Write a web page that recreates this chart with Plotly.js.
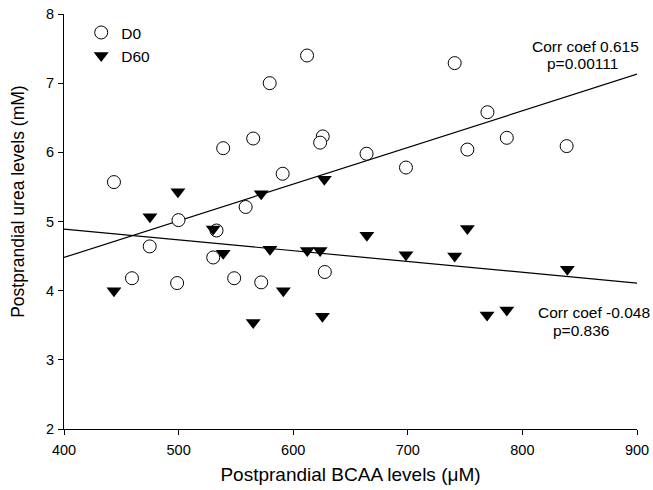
<!DOCTYPE html>
<html>
<head>
<meta charset="utf-8">
<script src="https://cdn.plot.ly/plotly-3.0.1.min.js"></script>
<style>html,body{margin:0;padding:0;background:#fff;}#chart{width:653px;height:490px;}</style>
</head>
<body>
<div id="chart"></div>
<script>
// D0 (open circles)
const d0X = [443.6, 612.1, 579.5, 565.1, 538.9, 625.8, 623.5, 590.8, 558.5, 499.9, 533.1, 474.8, 459.3, 498.7, 530.2, 548.5, 572.1, 627.6, 740.9, 769.5, 664.0, 698.4, 752.0, 786.4, 838.6];
const d0Y = [5.57, 7.40, 7.00, 6.20, 6.06, 6.23, 6.14, 5.69, 5.21, 5.02, 4.87, 4.64, 4.18, 4.11, 4.48, 4.18, 4.12, 4.27, 7.29, 6.58, 5.98, 5.78, 6.04, 6.21, 6.09];
// D60 (filled down-triangles)
const d60X = [499.4, 475.0, 572.1, 627.2, 530.2, 538.9, 579.7, 612.3, 623.5, 443.6, 591.4, 565.1, 625.5, 664.3, 752.0, 698.4, 740.9, 839.2, 769.2, 786.4];
const d60Y = [5.43, 5.07, 5.40, 5.61, 4.89, 4.54, 4.60, 4.58, 4.58, 4.00, 4.00, 3.54, 3.63, 4.80, 4.90, 4.52, 4.50, 4.31, 3.65, 3.72];
// regression lines (endpoints)
const fitX = [400, 900];
const fitD0Y = [4.48, 7.13];
const fitD60Y = [4.89, 4.11];
const xTicks = [400, 500, 600, 700, 800, 900];
const yTicks = [2, 3, 4, 5, 6, 7, 8];

const font = 'Arial, "Liberation Sans", sans-serif';
const traces = [
  {x: fitX, y: fitD0Y, mode: 'lines', line: {color: '#000', width: 1.2}, showlegend: false, hoverinfo: 'skip'},
  {x: fitX, y: fitD60Y, mode: 'lines', line: {color: '#000', width: 1.2}, showlegend: false, hoverinfo: 'skip'},
  {x: d0X, y: d0Y, mode: 'markers', name: 'D0', cliponaxis: false,
   marker: {symbol: 'circle', size: 13, color: '#fff', line: {color: '#000', width: 1}}},
  {x: d60X, y: d60Y, mode: 'markers', name: 'D60', cliponaxis: false,
   marker: {symbol: 'triangle-down', size: 13, color: '#000', line: {color: '#000', width: 0}}}
];

const PT = 14.1, PB = 429.3, PL = 64, PR = 637;
const py = v => (PB - v) / (PB - PT);
const px = v => (v - PL) / (PR - PL);

const layout = {
  width: 653, height: 490,
  margin: {l: 64, r: 16, t: 14, b: 61},
  paper_bgcolor: '#fff', plot_bgcolor: '#fff',
  font: {family: font, color: '#000', size: 14},
  showlegend: true,
  legend: {x: 0.03, y: py(16), xanchor: 'left', yanchor: 'top', bgcolor: 'rgba(0,0,0,0)',
           font: {size: 15.5, family: font, color: '#000'}, tracegroupgap: 0},
  xaxis: {range: [400, 900], tickvals: xTicks, ticks: 'outside', ticklen: 5, tickwidth: 1, tickcolor: '#000',
          showline: true, linecolor: '#000', linewidth: 1, showgrid: false, zeroline: false,
          tickfont: {size: 14.5, family: font}, fixedrange: true, ticklabelstandoff: 3,
          title: {text: 'Postprandial BCAA levels (μM)', font: {size: 19, family: font}, standoff: 10}},
  yaxis: {range: [2, 8], tickvals: yTicks, ticks: 'outside', ticklen: 5, tickwidth: 1, tickcolor: '#000',
          showline: true, linecolor: '#000', linewidth: 1, showgrid: false, zeroline: false,
          tickfont: {size: 14.5, family: font}, fixedrange: true, ticklabelstandoff: 1},
  annotations: [
    {xref: 'paper', yref: 'paper', x: px(18), y: py(202), text: 'Postprandial urea levels (mM)', textangle: -90,
     showarrow: false, font: {size: 17.5, family: font}, xanchor: 'center', yanchor: 'middle'},
    {xref: 'paper', yref: 'paper', x: px(585), y: py(47), text: 'Corr coef 0.615', showarrow: false, font: {size: 15.5, family: font}, xanchor: 'center', yanchor: 'middle'},
    {xref: 'paper', yref: 'paper', x: px(582), y: py(64), text: 'p=0.00111', showarrow: false, font: {size: 15.5, family: font}, xanchor: 'center', yanchor: 'middle'},
    {xref: 'paper', yref: 'paper', x: px(594), y: py(313), text: 'Corr coef -0.048', showarrow: false, font: {size: 15.5, family: font}, xanchor: 'center', yanchor: 'middle'},
    {xref: 'paper', yref: 'paper', x: px(581), y: py(331), text: 'p=0.836', showarrow: false, font: {size: 15.5, family: font}, xanchor: 'center', yanchor: 'middle'}
  ]
};
Plotly.newPlot('chart', traces, layout, {displayModeBar: false, staticPlot: true});
</script>
</body>
</html>
